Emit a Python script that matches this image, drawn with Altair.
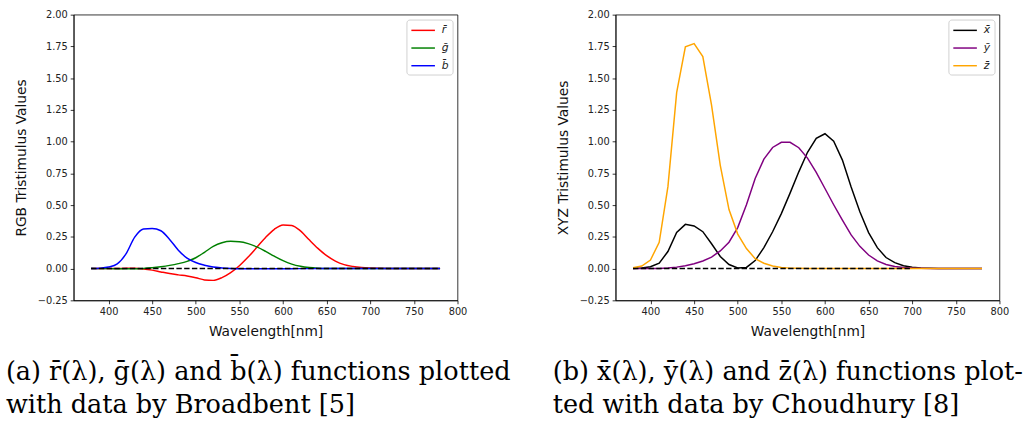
import altair as alt
import pandas as pd

# ---------------- data ----------------
wavelengths = list(range(380, 790, 10))

# Broadbent / CIE 1931 RGB colour matching functions
r_bar = [0.00003, 0.00010, 0.00030, 0.00084, 0.00211, 0.00218, -0.00261, -0.01213,
         -0.02608, -0.03933, -0.04939, -0.05814, -0.07173, -0.08901, -0.09264, -0.07101,
         -0.03152, 0.02279, 0.09060, 0.16768, 0.24526, 0.30928, 0.34429, 0.33971,
         0.29708, 0.22677, 0.15968, 0.10167, 0.05932, 0.03149, 0.01687, 0.00819,
         0.00410, 0.00210, 0.00105, 0.00052, 0.00025, 0.00012, 0.00006, 0.00003, 0.0]
g_bar = [-0.00001, -0.00004, -0.00014, -0.00041, -0.00110, -0.00119, 0.00149, 0.00678,
         0.01485, 0.02538, 0.03914, 0.05689, 0.08536, 0.12860, 0.17468, 0.20317,
         0.21466, 0.21178, 0.19702, 0.17087, 0.13610, 0.09754, 0.06246, 0.03557,
         0.01828, 0.00833, 0.00334, 0.00116, 0.00037, 0.00011, 0.00003, 0.0,
         0.0, 0.0, 0.0, 0.0, 0.0, 0.0, 0.0, 0.0, 0.0]
b_bar = [0.00117, 0.00359, 0.01214, 0.03707, 0.11541, 0.24769, 0.31228, 0.31670,
         0.29821, 0.22991, 0.14494, 0.08257, 0.04776, 0.02698, 0.01221, 0.00549,
         0.00146, -0.00058, -0.00130, -0.00135, -0.00108, -0.00079, -0.00049, -0.00030,
         -0.00015, -0.00008, -0.00003, -0.00001, 0.0, 0.0, 0.0, 0.0,
         0.0, 0.0, 0.0, 0.0, 0.0, 0.0, 0.0, 0.0, 0.0]

# Choudhury / CIE 1931 XYZ colour matching functions
x_bar = [0.0014, 0.0042, 0.0143, 0.0435, 0.1344, 0.2839, 0.3483, 0.3362,
         0.2908, 0.1954, 0.0956, 0.0320, 0.0049, 0.0093, 0.0633, 0.1655,
         0.2904, 0.4334, 0.5945, 0.7621, 0.9163, 1.0263, 1.0622, 1.0026,
         0.8544, 0.6424, 0.4479, 0.2835, 0.1649, 0.0874, 0.0468, 0.0227,
         0.0114, 0.0058, 0.0029, 0.0014, 0.0007, 0.0003, 0.0002, 0.0001, 0.0]
y_bar = [0.0000, 0.0001, 0.0004, 0.0012, 0.0040, 0.0116, 0.0230, 0.0380,
         0.0600, 0.0910, 0.1390, 0.2080, 0.3230, 0.5030, 0.7100, 0.8620,
         0.9540, 0.9950, 0.9950, 0.9520, 0.8700, 0.7570, 0.6310, 0.5030,
         0.3810, 0.2650, 0.1750, 0.1070, 0.0610, 0.0320, 0.0170, 0.0082,
         0.0041, 0.0021, 0.0010, 0.0005, 0.0002, 0.0001, 0.0001, 0.0000, 0.0]
z_bar = [0.0065, 0.0201, 0.0679, 0.2074, 0.6456, 1.3856, 1.7471, 1.7721,
         1.6692, 1.2876, 0.8130, 0.4652, 0.2720, 0.1582, 0.0782, 0.0422,
         0.0203, 0.0088, 0.0039, 0.0021, 0.0017, 0.0011, 0.0008, 0.0003,
         0.0002, 0.0001, 0.0, 0.0, 0.0, 0.0, 0.0, 0.0,
         0.0, 0.0, 0.0, 0.0, 0.0, 0.0, 0.0, 0.0, 0.0]

rgb_names = ["r\u0304", "g\u0304", "b\u0304"]
rgb_colors = ["red", "green", "blue"]
xyz_names = ["x\u0304", "y\u0304", "z\u0304"]
xyz_colors = ["black", "purple", "orange"]

x_ticks = [400, 450, 500, 550, 600, 650, 700, 750, 800]
y_ticks = [-0.25, 0.0, 0.25, 0.5, 0.75, 1.0, 1.25, 1.5, 1.75, 2.0]

caption_a = ["(a) r\u0304(\u03bb), g\u0304(\u03bb) and b\u0304(\u03bb) functions plotted",
             "with data by Broadbent [5]"]
caption_b = ["(b) x\u0304(\u03bb), y\u0304(\u03bb) and z\u0304(\u03bb) functions plot-",
             "ted with data by Choudhury [8]"]

TICK_FONT = "DejaVu Sans"
CAP_FONT = "DejaVu Serif"
CAP_SIZE = 26


def long_df(names, series):
    rows = []
    for name, vals in zip(names, series):
        for w, v in zip(wavelengths, vals):
            rows.append({"wl": w, "val": v, "series": name})
    return pd.DataFrame(rows)


def panel(names, colors, series, ytitle, caption, cap_x, interp, zero_end):
    df = long_df(names, series)
    xscale = alt.Scale(domain=[360, 800], nice=False, zero=False)
    yscale = alt.Scale(domain=[-0.25, 2.0], nice=False, zero=False)
    xaxis = alt.Axis(title="Wavelength[nm]", values=x_ticks, titlePadding=8)
    yaxis = alt.Axis(title=ytitle, values=y_ticks, format=".2f", titlePadding=9)
    lines = alt.Chart(df).mark_line(strokeWidth=1.5, interpolate=interp).encode(
        x=alt.X("wl:Q", scale=xscale, axis=xaxis),
        y=alt.Y("val:Q", scale=yscale, axis=yaxis),
        color=alt.Color("series:N",
                        scale=alt.Scale(domain=names, range=colors),
                        sort=names,
                        legend=alt.Legend(title=None, orient="top-right", offset=5,
                                          symbolType="M-1,0L3,0", symbolSize=144,
                                          symbolStrokeWidth=1.5,
                                          labelFont=TICK_FONT, labelFontStyle="italic",
                                          labelFontSize=11, labelColor="#222",
                                          padding=4, rowPadding=6, labelOffset=18,
                                          strokeColor="#d0d0d0", fillColor="white",
                                          cornerRadius=3)),
        detail="series:N",
    )
    zero = alt.Chart(pd.DataFrame({"wl": [380], "wl2": [zero_end], "val": [0.0]})).mark_rule(
        color="black", strokeWidth=1.5, strokeDash=[5.5, 2.4]
    ).encode(x=alt.X("wl:Q", scale=xscale, axis=xaxis), x2="wl2:Q",
             y=alt.Y("val:Q", scale=yscale, axis=yaxis))
    cap_df = pd.DataFrame({"t": caption, "line": [0, 1]})
    cap1 = alt.Chart(cap_df.iloc[[0]]).mark_text(
        align="left", baseline="alphabetic", font=CAP_FONT, fontSize=CAP_SIZE,
        color="black"
    ).encode(x=alt.value(cap_x), y=alt.value(372), text="t:N")
    cap2 = alt.Chart(cap_df.iloc[[1]]).mark_text(
        align="left", baseline="alphabetic", font=CAP_FONT, fontSize=CAP_SIZE,
        color="black"
    ).encode(x=alt.value(cap_x), y=alt.value(406), text="t:N")
    return alt.layer(lines, zero, cap1, cap2).properties(width=391, height=291)


left = panel(rgb_names, rgb_colors, [r_bar, g_bar, b_bar], "RGB Tristimulus Values",
             caption_a, -69, "monotone", 780)
right = panel(xyz_names, xyz_colors, [x_bar, y_bar, z_bar], "XYZ Tristimulus Values",
              caption_b, -64, "linear", 700)

chart = alt.hconcat(left, right, spacing=161, bounds="flush").resolve_scale(
    color="independent"
).configure_view(stroke="black", strokeWidth=0.8).configure_axis(
    grid=False, labelOverlap=False, labelFlush=False,
    labelFont=TICK_FONT, labelFontSize=10, labelColor="#222",
    titleFont=TICK_FONT, titleFontSize=14, titleFontWeight="normal",
    titleColor="#111", tickSize=3.5, tickColor="black",
    domainColor="black", tickWidth=0.8, domainWidth=0.8, labelPadding=3,
).properties(
    padding={"left": 5, "top": 5, "right": 0, "bottom": 0},
    background="white",
)

chart.save("out.html", embed_options={"renderer": "svg", "actions": False})
